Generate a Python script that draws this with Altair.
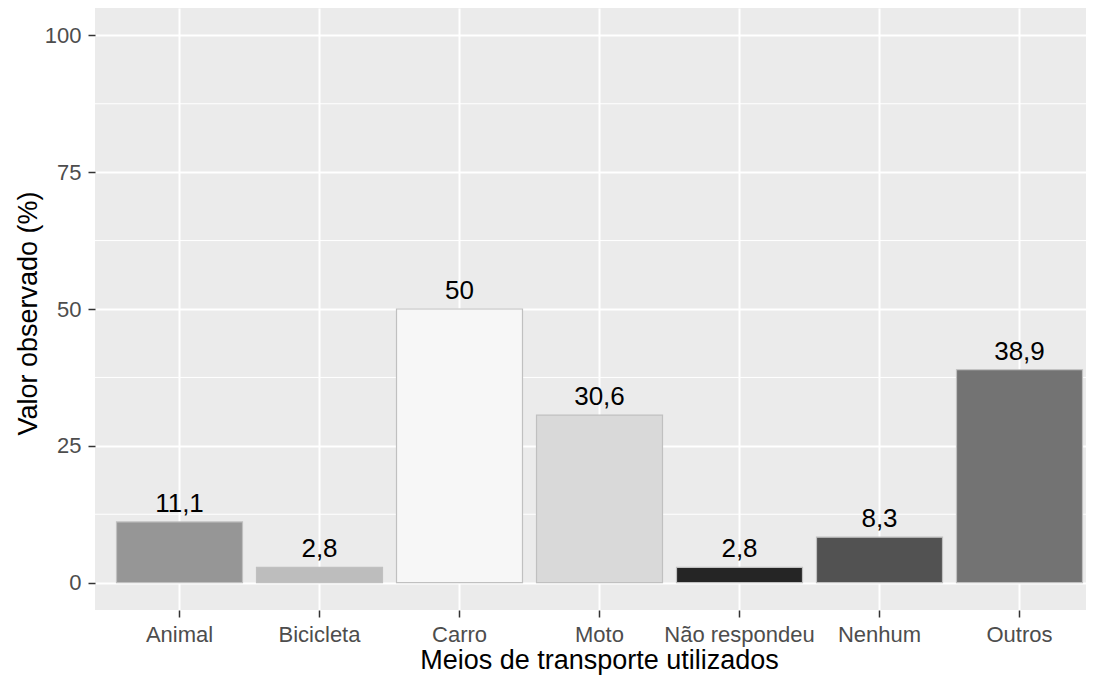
import altair as alt
import pandas as pd

categorias = ["Animal", "Bicicleta", "Carro", "Moto", "Não respondeu", "Nenhum", "Outros"]
valores = [11.1, 2.8, 50, 30.6, 2.8, 8.3, 38.9]
cores = ["#969696", "#BDBDBD", "#F7F7F7", "#D9D9D9", "#252525", "#525252", "#737373"]
ticks_y = [0, 25, 50, 75, 100]
minor_y = [12.5, 37.5, 62.5, 87.5]

df = pd.DataFrame({"meio": categorias, "valor": valores})
df_minor = pd.DataFrame({"valor": minor_y})

FONT = "Arial, Liberation Sans"
W, H = 991, 602

x_enc = alt.X(
    "meio:N",
    sort=categorias,
    scale=alt.Scale(paddingInner=0.1, paddingOuter=0.0893, align=0.86),
    axis=alt.Axis(
        title="Meios de transporte utilizados",
        labelAngle=0,
        labelFont=FONT, labelFontSize=22, labelColor="#4D4D4D",
        labelPadding=7, labelBaseline="top",
        titleFont=FONT, titleFontSize=27, titleColor="#000000", titleFontWeight="normal",
        titleX=504, titleY=58, titleAlign="center", titleBaseline="alphabetic",
        domain=False, ticks=True, tickColor="#333333", tickSize=7, tickWidth=1.5,
        grid=True, gridColor="#FFFFFF", gridWidth=2, bandPosition=0.5,
    ),
)

y_scale = alt.Scale(domain=[-5, 105], nice=False, zero=False)
y_axis = alt.Axis(
    title="Valor observado (%)",
    values=ticks_y,
    labelFont=FONT, labelFontSize=22, labelColor="#4D4D4D", labelPadding=7,
    titleFont=FONT, titleFontSize=27, titleColor="#000000", titleFontWeight="normal",
    titleX=-67, titleY=305, titleAngle=270, titleAlign="center", titleBaseline="middle",
    domain=False, tickColor="#333333", tickSize=7, tickWidth=1.5,
    grid=True, gridColor="#FFFFFF", gridWidth=2,
)

minor = alt.Chart(df_minor).mark_rule(color="#FFFFFF", strokeWidth=1).encode(
    y=alt.Y("valor:Q", scale=y_scale, axis=y_axis)
)

bars = alt.Chart(df).mark_bar(stroke="#C0C0C0", strokeWidth=1.2).encode(
    x=x_enc,
    y=alt.Y("valor:Q", scale=y_scale, axis=y_axis),
    fill=alt.Fill("meio:N", scale=alt.Scale(domain=categorias, range=cores), legend=None),
)

labels = alt.Chart(df).transform_calculate(
    rotulo="replace(toString(datum.valor), '.', ',')"
).mark_text(
    font=FONT, fontSize=26, color="#000000", baseline="alphabetic", dy=-10
).encode(
    x=alt.X("meio:N", sort=categorias),
    y=alt.Y("valor:Q", scale=y_scale, axis=y_axis),
    text="rotulo:N",
)

chart = alt.layer(minor, bars, labels).properties(
    width=W, height=H,
    padding={"left": 87, "top": 0, "right": 0, "bottom": 66},
    autosize=alt.AutoSizeParams(type="none"),
    background="#FFFFFF",
).configure_view(fill="#EBEBEB", stroke=None)

chart.save("out.html", embed_options={"renderer": "svg", "actions": False})
